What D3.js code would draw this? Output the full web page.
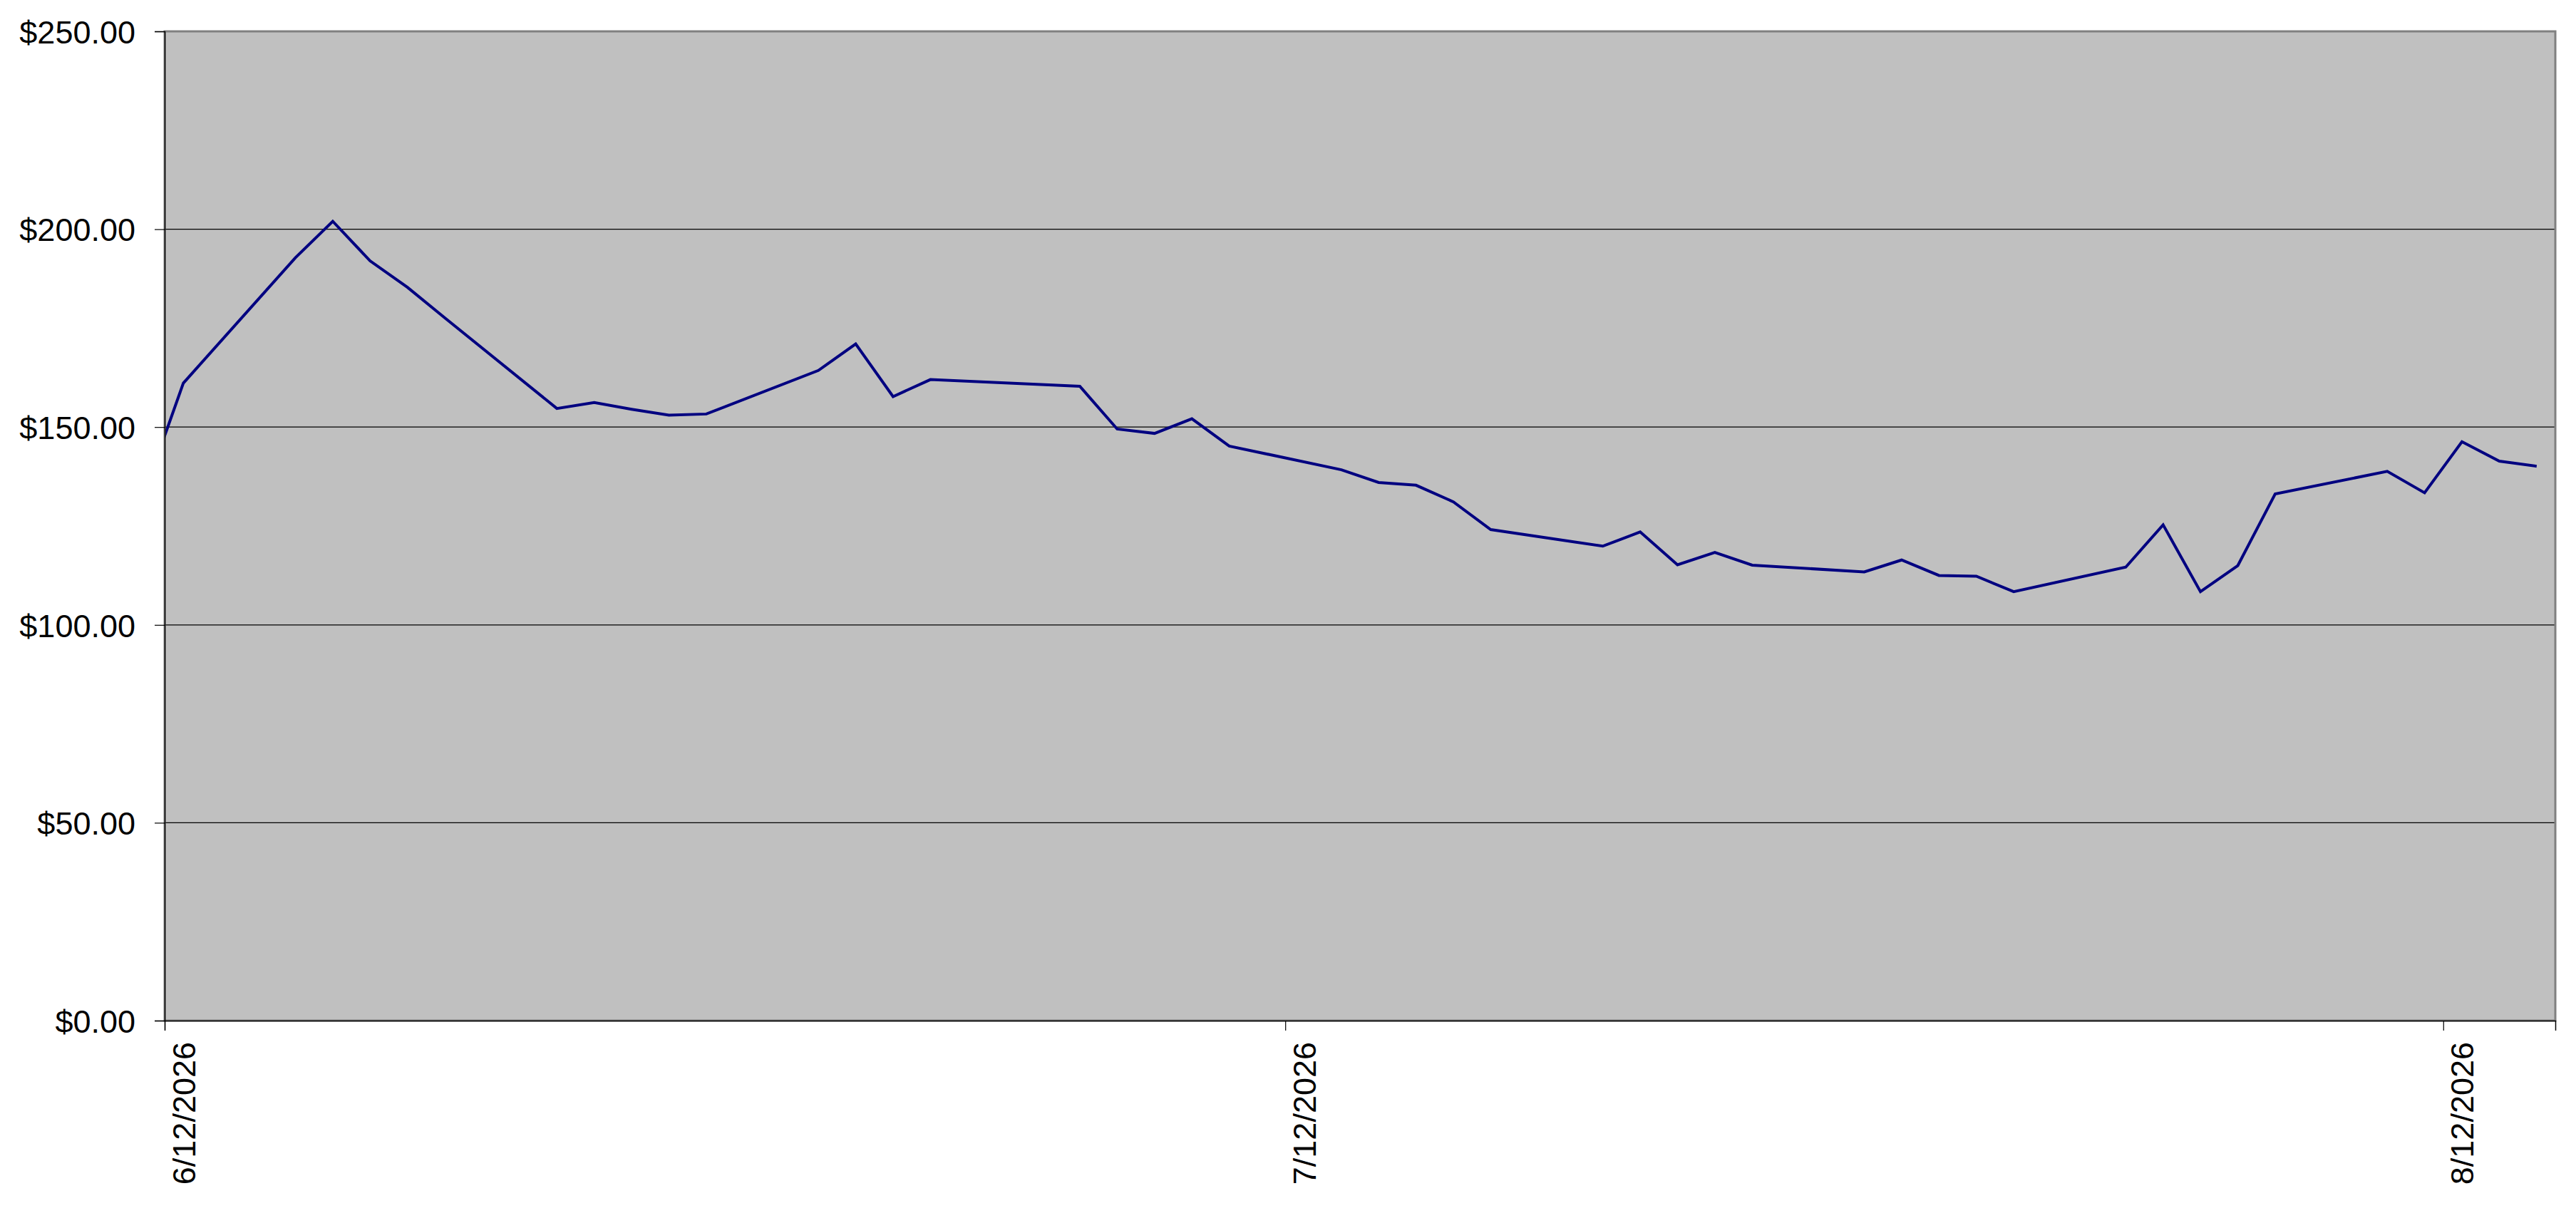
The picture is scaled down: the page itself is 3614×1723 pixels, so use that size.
<!DOCTYPE html>
<html>
<head>
<meta charset="utf-8">
<script src="https://cdn.jsdelivr.net/npm/d3@7"></script>
<style>
    html, body { margin: 0; padding: 0; background: #fff; }
    svg { display: block; }
    text { font-family: "Liberation Sans", Arial, sans-serif; fill: #000; }
</style>
</head>
<body>
<div id="chart"></div>
<script>
// trading days (Jun 11 sits just left of the axis start and gets clipped)
const dates = [
    "2026-06-11", "2026-06-12", "2026-06-15", "2026-06-16", "2026-06-17", "2026-06-18", "2026-06-19",
    "2026-06-22", "2026-06-23", "2026-06-24", "2026-06-25", "2026-06-26", "2026-06-29", "2026-06-30",
    "2026-07-01", "2026-07-02", "2026-07-06", "2026-07-07", "2026-07-08", "2026-07-09", "2026-07-10",
    "2026-07-13", "2026-07-14", "2026-07-15", "2026-07-16", "2026-07-17", "2026-07-20", "2026-07-21",
    "2026-07-22", "2026-07-23", "2026-07-24", "2026-07-27", "2026-07-28", "2026-07-29", "2026-07-30",
    "2026-07-31", "2026-08-03", "2026-08-04", "2026-08-05", "2026-08-06", "2026-08-07", "2026-08-10",
    "2026-08-11", "2026-08-12", "2026-08-13", "2026-08-14"
];
const prices = [
    134.5, 161.1, 192.8, 202.0, 192.0, 185.3, 177.6,
    154.7, 156.2, 154.5, 153.0, 153.3, 164.3, 171.0,
    157.7, 162.0, 160.3, 149.5, 148.4, 152.1, 145.2,
    139.2, 136.0, 135.3, 131.1, 124.1, 119.9, 123.5,
    115.2, 118.3, 115.1, 113.4, 116.4, 112.5, 112.3,
    108.4, 114.6, 125.3, 108.4, 115.0, 133.1, 138.8,
    133.4, 146.3, 141.4, 140.1
];
const xDomain = ["2026-06-12", "2026-08-15"];
const xTickDates = ["2026-06-12", "2026-07-12", "2026-08-12"];
const yTicks = [0, 50, 100, 150, 200, 250];

const width = 3614;
const height = 1723;
const margin = { top: 44, right: 29, bottom: 291, left: 231 };

const parse = d3.timeParse("%Y-%m-%d");
// each day is a slot, the point sits in the middle of it
const data = dates.map((d, i) => ({ date: d3.timeHour.offset(parse(d), 12), value: prices[i] }));

const svg = d3.select("#chart")
    .append("svg")
    .attr("width", width)
    .attr("height", height);

const x = d3.scaleTime()
    .domain(xDomain.map(parse))
    .range([margin.left, width - margin.right]);

const y = d3.scaleLinear()
    .domain([0, 250])
    .range([height - margin.bottom, margin.top]);

const plotW = width - margin.left - margin.right;
const plotH = height - margin.top - margin.bottom;

svg.append("rect")
    .attr("x", margin.left)
    .attr("y", margin.top)
    .attr("width", plotW)
    .attr("height", plotH)
    .attr("fill", "#c0c0c0");

svg.append("clipPath")
    .attr("id", "plot-clip")
    .append("rect")
    .attr("x", margin.left)
    .attr("y", margin.top)
    .attr("width", plotW)
    .attr("height", plotH);

// gridlines
svg.append("g")
    .selectAll("line")
    .data(yTicks.filter(t => t > 0 && t < 250))
    .enter()
    .append("line")
    .attr("x1", margin.left)
    .attr("x2", width - margin.right)
    .attr("y1", d => y(d))
    .attr("y2", d => y(d))
    .attr("stroke", "#000")
    .attr("stroke-width", 1.2);

const line = d3.line()
    .x(d => x(d.date))
    .y(d => y(d.value));

svg.append("path")
    .datum(data)
    .attr("clip-path", "url(#plot-clip)")
    .attr("fill", "none")
    .attr("stroke", "#000080")
    .attr("stroke-width", 4)
    .attr("stroke-linejoin", "miter")
    .attr("d", line);

// plot border
svg.append("rect")
    .attr("x", margin.left)
    .attr("y", margin.top)
    .attr("width", plotW)
    .attr("height", plotH)
    .attr("fill", "none")
    .attr("stroke", "#808080")
    .attr("stroke-width", 3);

const yAxis = svg.append("g")
    .attr("transform", `translate(${margin.left},0)`)
    .call(d3.axisLeft(y)
        .tickValues(yTicks)
        .tickSize(14)
        .tickPadding(27)
        .tickFormat(d3.format("$.2f")));

yAxis.select(".domain").attr("stroke", "#000").attr("stroke-width", 1.5);
yAxis.selectAll(".tick line").attr("stroke", "#000").attr("stroke-width", 1.2);
yAxis.selectAll(".tick text")
    .attr("dy", "0.36em")
    .style("font-size", "45px");

const xAxis = svg.append("g")
    .attr("transform", `translate(0,${height - margin.bottom})`)
    .call(d3.axisBottom(x)
        .tickValues(xTickDates.map(parse))
        .tickSize(14)
        .tickFormat(d3.timeFormat("%-m/%-d/%Y")));

xAxis.select(".domain").attr("stroke", "#000").attr("stroke-width", 1.5);
xAxis.selectAll(".tick line").attr("stroke", "#000").attr("stroke-width", 1.2);
xAxis.selectAll(".tick text")
    .attr("text-anchor", "end")
    .attr("transform", "rotate(-90)")
    .attr("x", -30)
    .attr("y", 0)
    .attr("dy", "42px")
    .style("font-size", "45px");
</script>
</body>
</html>
